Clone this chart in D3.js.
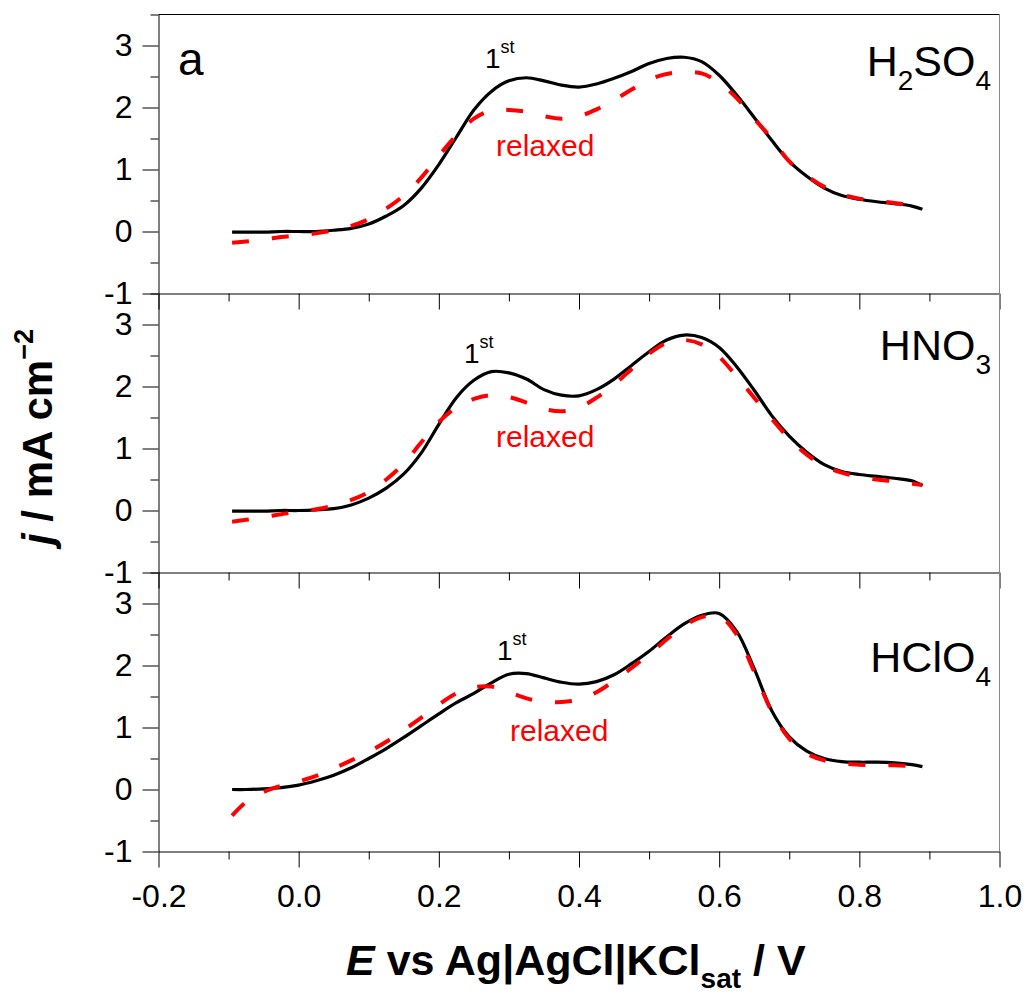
<!DOCTYPE html>
<html>
<head>
<meta charset="utf-8">
<script src="https://cdn.jsdelivr.net/npm/d3@7"></script>
<style>
  html, body { margin: 0; padding: 0; background: #fff; }
  svg { display: block; font-family: "Liberation Sans", Arial, sans-serif; }
</style>
</head>
<body>
<svg id="chart" width="1030" height="997"></svg>
<script>
// Potential grid (V vs Ag|AgCl|KCl sat) shared by every voltammogram
const potential = [-0.095, -0.075, -0.05, -0.025, 0, 0.025, 0.05, 0.075, 0.1, 0.125,
  0.15, 0.175, 0.2, 0.225, 0.25, 0.275, 0.3, 0.325, 0.35, 0.375,
  0.4, 0.425, 0.45, 0.475, 0.5, 0.525, 0.55, 0.575, 0.6, 0.625,
  0.65, 0.675, 0.7, 0.725, 0.75, 0.775, 0.8, 0.825, 0.85, 0.875, 0.89];

// Current density, mA cm^-2 — first sweep and relaxed sweep, per electrolyte
const h2so4First = [-0.01, -0.01, -0.01, 0.0, 0.0, 0.0, 0.02, 0.05, 0.12, 0.25,
  0.42, 0.70, 1.08, 1.52, 1.96, 2.26, 2.43, 2.48, 2.43, 2.36,
  2.33, 2.38, 2.47, 2.58, 2.71, 2.79, 2.81, 2.74, 2.52, 2.20,
  1.84, 1.47, 1.13, 0.89, 0.70, 0.58, 0.52, 0.48, 0.45, 0.41, 0.36];
const h2so4Relaxed = [-0.18, -0.16, -0.13, -0.09, -0.06, -0.03, 0.02, 0.09, 0.20, 0.37,
  0.58, 0.87, 1.22, 1.55, 1.82, 1.95, 1.96, 1.93, 1.86, 1.82,
  1.86, 1.97, 2.12, 2.29, 2.45, 2.54, 2.57, 2.55, 2.40, 2.15,
  1.82, 1.50, 1.13, 0.90, 0.72, 0.60, 0.53, 0.49, 0.46, 0.42, 0.38];
const hno3First = [-0.01, -0.01, -0.01, 0.0, 0.0, 0.01, 0.03, 0.09, 0.20, 0.36,
  0.59, 0.93, 1.39, 1.82, 2.10, 2.24, 2.22, 2.12, 1.95, 1.86,
  1.85, 1.95, 2.12, 2.34, 2.56, 2.75, 2.83, 2.79, 2.63, 2.32,
  1.94, 1.53, 1.20, 0.94, 0.74, 0.63, 0.58, 0.55, 0.52, 0.48, 0.40];
const hno3Relaxed = [-0.18, -0.15, -0.11, -0.06, -0.02, 0.02, 0.08, 0.17, 0.30, 0.50,
  0.76, 1.10, 1.43, 1.66, 1.80, 1.86, 1.83, 1.74, 1.64, 1.60,
  1.66, 1.82, 2.03, 2.28, 2.53, 2.70, 2.75, 2.68, 2.48, 2.16,
  1.82, 1.48, 1.16, 0.90, 0.72, 0.61, 0.54, 0.50, 0.47, 0.43, 0.41];
const hclo4First = [0.0, 0.0, 0.01, 0.03, 0.07, 0.14, 0.23, 0.35, 0.50, 0.66,
  0.84, 1.03, 1.22, 1.40, 1.55, 1.72, 1.86, 1.87, 1.80, 1.73,
  1.70, 1.74, 1.85, 2.03, 2.23, 2.46, 2.67, 2.81, 2.84, 2.55,
  1.95, 1.27, 0.85, 0.62, 0.50, 0.45, 0.44, 0.44, 0.43, 0.40, 0.37];
const hclo4Relaxed = [-0.42, -0.20, -0.04, 0.06, 0.13, 0.22, 0.34, 0.47, 0.61, 0.77,
  0.96, 1.16, 1.37, 1.55, 1.65, 1.66, 1.57, 1.47, 1.42, 1.41,
  1.45, 1.57, 1.75, 1.96, 2.18, 2.42, 2.64, 2.78, 2.80, 2.50,
  1.90, 1.26, 0.82, 0.58, 0.47, 0.42, 0.40, 0.39, 0.39, 0.38, 0.37];

// Tick values
const xMajorTicks = [-0.2, 0.0, 0.2, 0.4, 0.6, 0.8, 1.0];
const xMinorTicks = [-0.1, 0.1, 0.3, 0.5, 0.7, 0.9];
const yMajorTicks = [-1, 0, 1, 2, 3];
const yMinorTicks = [-0.5, 0.5, 1.5, 2.5, 3.5];

// Panel annotations
const electrolytes = [
  { name: "H", sub1: "2", mid: "SO", sub2: "4", first: h2so4First, relaxed: h2so4Relaxed },
  { name: "HNO", sub1: null, mid: "", sub2: "3", first: hno3First, relaxed: hno3Relaxed },
  { name: "HClO", sub1: null, mid: "", sub2: "4", first: hclo4First, relaxed: hclo4Relaxed }
];
const nameBaseline = [76, 360, 672];
const firstLabelPos = [[485, 68], [464, 363], [497, 660]];
const relaxedLabelPos = [[496, 156], [496, 447], [510, 741]];

const svg = d3.select("#chart");
const left = 158.5, right = 999.5;
const panelTop = 14.5, panelH = 279;

const x = d3.scaleLinear().domain([-0.2, 1.0]).range([left, right]);
const y = d3.scaleLinear().domain([-1, 3.5]).range([panelH, 0]);

// plain hyphen-minus in tick labels
const fmtX = d => d.toFixed(1);
const fmtY = d => String(d);

const line = (vals) => d3.line()
  .x((d, i) => x(potential[i]))
  .y(d => y(d))
  .curve(d3.curveCatmullRom.alpha(0.5))(vals);

electrolytes.forEach((el, p) => {
  const top = panelTop + p * panelH;
  const g = svg.append("g").attr("transform", `translate(0,${top})`);

  // curves
  g.append("path").attr("d", line(el.first))
    .attr("fill", "none").attr("stroke", "#000").attr("stroke-width", 3.2)
    .attr("stroke-linejoin", "round");
  g.append("path").attr("d", line(el.relaxed))
    .attr("fill", "none").attr("stroke", "#ff0000").attr("stroke-width", 4)
    .attr("stroke-dasharray", "17,23");

  // left axis
  const yAxis = g.append("g").attr("transform", `translate(${left},0)`)
    .call(d3.axisLeft(y).tickValues(yMajorTicks).tickSize(16).tickSizeOuter(0)
      .tickPadding(10).tickFormat(fmtY));
  yAxis.selectAll("text").attr("font-size", 32).attr("fill", "#000")
    .attr("font-family", "Liberation Sans, Arial, sans-serif");
  yAxis.select(".domain").attr("stroke", "#000");
  const yMinor = g.append("g").attr("transform", `translate(${left},0)`)
    .call(d3.axisLeft(y).tickValues(yMinorTicks).tickSize(8).tickSizeOuter(0).tickFormat(""));
  yMinor.select(".domain").remove();

  // bottom axis with outward ticks
  const last = p === electrolytes.length - 1;
  const xAxis = g.append("g").attr("transform", `translate(0,${panelH})`)
    .call(d3.axisBottom(x).tickValues(xMajorTicks).tickSize(16).tickSizeOuter(0)
      .tickPadding(17).tickFormat(last ? fmtX : ""));
  xAxis.selectAll("text").attr("font-size", 32).attr("fill", "#000")
    .attr("font-family", "Liberation Sans, Arial, sans-serif");
  const xMinor = g.append("g").attr("transform", `translate(0,${panelH})`)
    .call(d3.axisBottom(x).tickValues(xMinorTicks).tickSize(8).tickSizeOuter(0).tickFormat(""));
  xMinor.select(".domain").remove();

  // electrolyte label
  const t = svg.append("text").attr("x", 991).attr("y", nameBaseline[p])
    .attr("text-anchor", "end").attr("font-size", 43).attr("fill", "#000");
  t.append("tspan").text(el.name);
  if (el.sub1) {
    t.append("tspan").attr("font-size", 28).attr("dy", 14).text(el.sub1);
    t.append("tspan").attr("dy", -14).text(el.mid);
  }
  t.append("tspan").attr("font-size", 28).attr("dy", 14).text(el.sub2);

  // sweep labels
  const f = svg.append("text").attr("x", firstLabelPos[p][0]).attr("y", firstLabelPos[p][1])
    .attr("font-size", 28).attr("fill", "#000");
  f.append("tspan").text("1");
  f.append("tspan").attr("font-size", 18).attr("dy", -15).text("st");
  svg.append("text").attr("x", relaxedLabelPos[p][0]).attr("y", relaxedLabelPos[p][1])
    .attr("font-size", 30).attr("fill", "#ff0000").text("relaxed");
});

// frame: top border and grey right edge
svg.append("line").attr("x1", left).attr("x2", right).attr("y1", panelTop).attr("y2", panelTop)
  .attr("stroke", "#000");
svg.append("line").attr("x1", right).attr("x2", right)
  .attr("y1", panelTop).attr("y2", panelTop + 3 * panelH)
  .attr("stroke", "#888");

// panel letter
svg.append("text").attr("x", 178).attr("y", 75).attr("font-size", 46).attr("fill", "#000").text("a");

// axis titles
const xt = svg.append("text").attr("x", 346).attr("y", 975)
  .attr("font-size", 43).attr("font-weight", "bold").attr("fill", "#000");
xt.append("tspan").attr("font-style", "italic").text("E");
xt.append("tspan").text(" vs Ag|AgCl|KCl");
xt.append("tspan").attr("font-size", 28).attr("dy", 13).text("sat");
xt.append("tspan").attr("dy", -13).text(" / V");

const yt = svg.append("text").attr("transform", "translate(52,437) rotate(-90)")
  .attr("text-anchor", "middle").attr("font-size", 42).attr("font-weight", "bold").attr("fill", "#000");
yt.append("tspan").attr("font-style", "italic").text("j");
yt.append("tspan").text(" / mA cm");
yt.append("tspan").attr("font-size", 27).attr("dy", -19).text("\u22122");
</script>
</body>
</html>
